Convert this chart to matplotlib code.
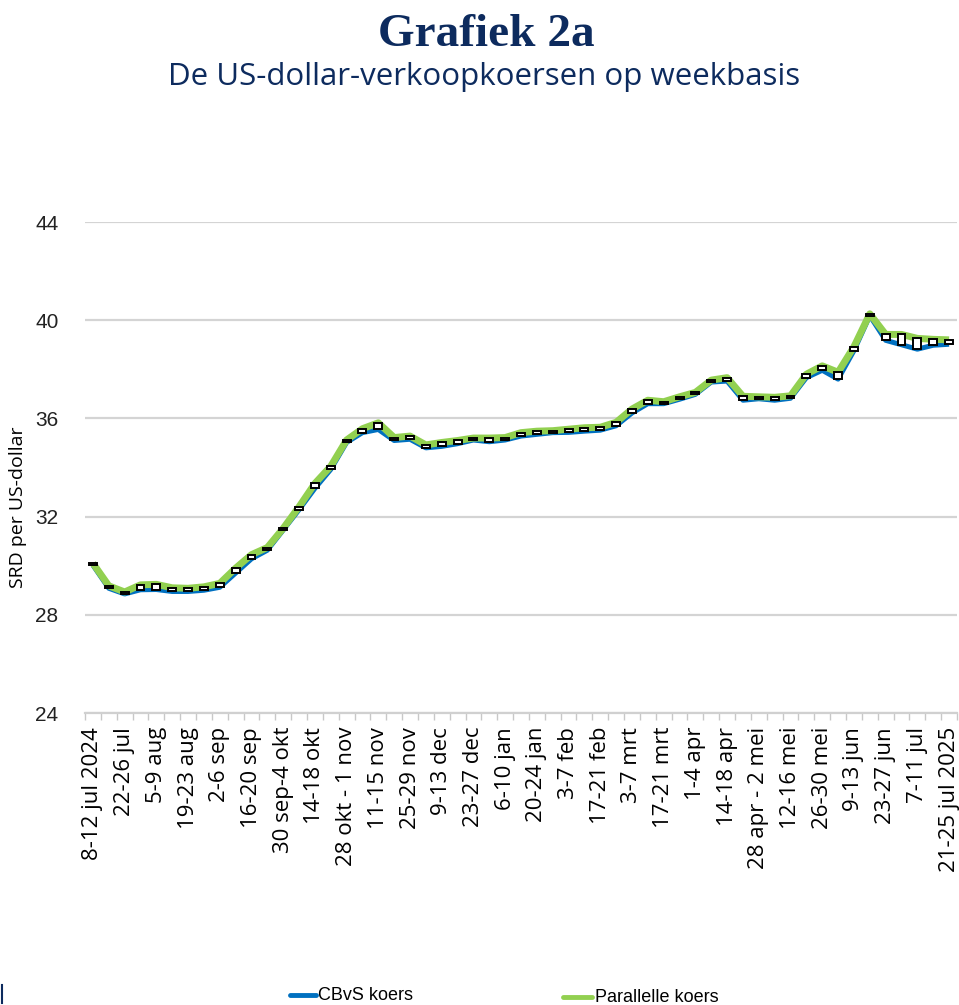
import matplotlib
matplotlib.use("Agg")
import matplotlib.pyplot as plt
from matplotlib.lines import Line2D
import numpy as np

weeks = [
    "8-12 jul 2024", "15-19 jul", "22-26 jul", "29 jul-2 aug", "5-9 aug", "12-16 aug",
    "19-23 aug", "26-30 aug", "2-6 sep", "9-13 sep", "16-20 sep", "23-27 sep",
    "30 sep-4 okt", "7-11 okt", "14-18 okt", "21-25 okt", "28 okt - 1 nov", "4-8 nov",
    "11-15 nov", "18-22 nov", "25-29 nov", "2-6 dec", "9-13 dec", "16-20 dec",
    "23-27 dec", "30 dec-3 jan", "6-10 jan", "13-17 jan", "20-24 jan", "27-31 jan",
    "3-7 feb", "10-14 feb", "17-21 feb", "24-28 feb", "3-7 mrt", "10-14 mrt",
    "17-21 mrt", "24-28 mrt", "1-4 apr", "7-11 apr", "14-18 apr", "21-25 apr",
    "28 apr - 2 mei", "5-9 mei", "12-16 mei", "19-23 mei", "26-30 mei", "2-6 jun",
    "9-13 jun", "16-20 jun", "23-27 jun", "30 jun-4 jul", "7-11 jul", "14-18 jul",
    "21-25 jul 2025",
]

cbvs = [30.02, 29.08, 28.85, 29.02, 29.03, 28.95, 28.95, 29.00, 29.12, 29.70,
        30.28, 30.63, 31.45, 32.28, 33.15, 33.92, 35.02, 35.42, 35.55, 35.10,
        35.15, 34.80, 34.86, 34.97, 35.12, 35.05, 35.12, 35.28, 35.35, 35.42,
        35.43, 35.48, 35.52, 35.70, 36.22, 36.60, 36.60, 36.78, 36.98, 37.48,
        37.52, 36.74, 36.80, 36.74, 36.82, 37.66, 37.96, 37.60, 38.76, 40.18,
        39.18, 39.00, 38.82, 38.98, 39.02]

parallel = [30.10, 29.18, 28.93, 29.22, 29.24, 29.10, 29.08, 29.14, 29.28, 29.90,
            30.45, 30.74, 31.52, 32.40, 33.35, 34.05, 35.12, 35.58, 35.82, 35.22,
            35.28, 34.92, 35.02, 35.10, 35.20, 35.20, 35.22, 35.42, 35.48, 35.50,
            35.56, 35.62, 35.64, 35.84, 36.38, 36.74, 36.68, 36.88, 37.06, 37.56,
            37.66, 36.90, 36.88, 36.86, 36.92, 37.80, 38.14, 37.88, 38.92, 40.26,
            39.42, 39.42, 39.26, 39.22, 39.20]

yticks = [24, 28, 32, 36, 40, 44]

NAVY = "#0d2b5e"
BLUE = "#0070C0"
GREEN = "#92D050"

fig = plt.figure(figsize=(9.59, 10.05), dpi=100)
ax = fig.add_axes([85 / 959, 1 - 713 / 1005, 872 / 959, 491 / 1005])

x = np.arange(len(weeks))
ax.plot(x, cbvs, color=BLUE, lw=3.6, solid_joinstyle="round", solid_capstyle="butt", zorder=2)
ax.plot(x, parallel, color=GREEN, lw=5.0, solid_joinstyle="round", solid_capstyle="butt", zorder=3)
diff = np.array(parallel) - np.array(cbvs)
ax.bar(x, diff, bottom=cbvs, width=0.5, color="white", edgecolor="black",
       linewidth=1.4, zorder=4)

ax.set_xlim(-0.5, len(weeks) - 0.5)
ax.set_ylim(24, 44)
ax.set_yticks(yticks)
ax.set_yticklabels([str(v) for v in yticks], family="Liberation Sans",
                   fontsize=15, color="#222222")
ax.tick_params(axis="y", length=0, pad=19)
ax.grid(axis="y", color="#d4d4d4", lw=1.6, zorder=0)
ax.set_axisbelow(True)

ax.set_xticks(x[::2])
ax.set_xticklabels(weeks[::2], rotation=90, fontsize=16, family="Open Sans", color="black")
ax.set_xticks(np.arange(-0.5, len(weeks), 1), minor=True)
ax.tick_params(axis="x", which="major", length=0, pad=10)
ax.tick_params(axis="x", which="minor", length=5, color="#c8c8c8", width=1)

for s in ["left", "right", "top"]:
    ax.spines[s].set_visible(False)
ax.spines["bottom"].set_color("#d0d0d0")
ax.spines["bottom"].set_linewidth(1.6)

fig.text(18 / 959, 1 - 507 / 1005, "SRD per US-dollar", rotation=90, ha="center", va="center",
         fontsize=14, family="Open Sans", color="black")

fig.text(486 / 959, 1 - 35 / 1005, "Grafiek 2a", ha="center", va="center",
         fontsize=34, fontweight="bold", family="Liberation Serif", color=NAVY)
fig.text(484 / 959, 1 - 77 / 1005, "De US-dollar-verkoopkoersen op weekbasis", ha="center",
         va="center", fontsize=22.5, family="Open Sans", color=NAVY)

# legend
fig.add_artist(Line2D([290 / 959, 316 / 959], [1 - 995 / 1005] * 2, color=BLUE, lw=3.5,
                      solid_capstyle="round"))
fig.text(318 / 959, 1 - 995 / 1005, "CBvS koers", ha="left", va="center", fontsize=13,
         family="Liberation Sans", color="black")
fig.add_artist(Line2D([563 / 959, 592 / 959], [1 - 997 / 1005] * 2, color=GREEN, lw=3.5,
                      solid_capstyle="round"))
fig.text(595 / 959, 1 - 997 / 1005, "Parallelle koers", ha="left", va="center", fontsize=13,
         family="Liberation Sans", color="black")
fig.add_artist(Line2D([1.5 / 959, 1.5 / 959], [1 - 985 / 1005, 1 - 1003 / 1005],
                      color=NAVY, lw=1.5))

fig.savefig("out.png", dpi=100)
